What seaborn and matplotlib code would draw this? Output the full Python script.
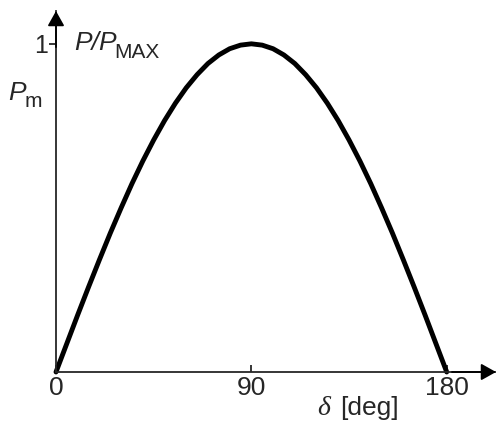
import matplotlib
matplotlib.use("Agg")
import matplotlib.pyplot as plt
import seaborn as sns
import pandas as pd

# values (every 5 deg)
delta_deg = [0, 5, 10, 15, 20, 25, 30, 35, 40, 45, 50, 55, 60, 65, 70, 75, 80, 85, 90,
             95, 100, 105, 110, 115, 120, 125, 130, 135, 140, 145, 150, 155, 160, 165, 170, 175, 180]
p_ratio = [0.000, 0.087, 0.174, 0.259, 0.342, 0.423, 0.500, 0.574, 0.643, 0.707, 0.766, 0.819, 0.866,
           0.906, 0.940, 0.966, 0.985, 0.996, 1.000,
           0.996, 0.985, 0.966, 0.940, 0.906, 0.866, 0.819, 0.766, 0.707, 0.643, 0.574, 0.500,
           0.423, 0.342, 0.259, 0.174, 0.087, 0.000]
x_ticks = [0, 90, 180]
x_tick_labels = ["0", "90", "180"]
y_ticks = [1]
y_tick_labels = ["1"]

sns.set_style("ticks")
plt.rcParams['font.family'] = ['Liberation Sans', 'DejaVu Sans']

df = pd.DataFrame({"delta": delta_deg, "p": p_ratio})

fig = plt.figure(figsize=(4.96, 4.23), dpi=100)
ax = fig.add_axes([56/496, 51/423, 440/496, 361/423])

sns.lineplot(data=df, x="delta", y="p", ax=ax, color="black", lw=3.5, clip_on=False,
             solid_joinstyle="round")

ax.set_xlim(0, 202.7)
ax.set_ylim(0, 1.10)

# axes drawn as arrows
for s in ["top", "right"]:
    ax.spines[s].set_visible(False)
for s in ["left", "bottom"]:
    ax.spines[s].set_linewidth(1.3)
arrow = dict(arrowstyle="-|>,head_length=0.5,head_width=0.28", color="black", lw=1.3,
             mutation_scale=18, shrinkA=0, shrinkB=0)
ax.annotate("", xy=(1, 0), xytext=(0.9, 0), xycoords="axes fraction", arrowprops=arrow)
ax.annotate("", xy=(0, 1), xytext=(0, 0.9), xycoords="axes fraction", arrowprops=arrow)

ax.set_xticks(x_ticks)
ax.set_xticklabels(x_tick_labels, fontsize=19)
ax.set_yticks(y_ticks)
ax.set_yticklabels(y_tick_labels, fontsize=18)
ax.tick_params(axis="x", direction="in", length=5, width=1.3, pad=3)
ax.tick_params(axis="y", direction="out", length=5, width=1.3, pad=1)
ax.set_xlabel("")
ax.set_ylabel("")

# axis labels
ax.text(0.593, -0.119, "δ", transform=ax.transAxes, fontsize=20, style="italic",
        family="Liberation Serif", ha="left", va="baseline")
ax.text(0.645, -0.119, "[deg]", transform=ax.transAxes, fontsize=19, ha="left", va="baseline")

ax.text(0.041, 0.892, "P/P", transform=ax.transAxes, fontsize=19, style="italic",
        ha="left", va="baseline")
ax.text(0.133, 0.870, "MAX", transform=ax.transAxes, fontsize=15, ha="left", va="baseline")

ax.text(-0.109, 0.753, "P", transform=ax.transAxes, fontsize=19, style="italic",
        ha="left", va="baseline")
ax.text(-0.0705, 0.734, "m", transform=ax.transAxes, fontsize=15, ha="left", va="baseline")

fig.savefig("out.png", dpi=100)
